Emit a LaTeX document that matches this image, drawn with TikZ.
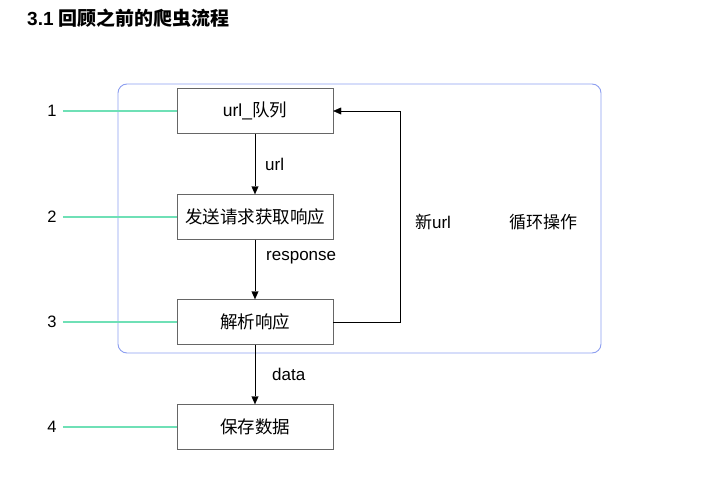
\documentclass[tikz,border=0pt]{standalone}
\usepackage{fontspec}
\setmainfont{Liberation Sans}
\newfontfamily\cjk{Noto Sans CJK SC}
\usepackage{tikz}
\usetikzlibrary{arrows.meta}

\definecolor{loopblue}{HTML}{8C9EF0}
\definecolor{mintline}{HTML}{6FE0B6}

\tikzset{
  stagebox/.style={draw=black!60, fill=white, minimum width=156pt, minimum height=45pt,
    inner sep=0pt, font=\fontsize{17.5}{20}\selectfont},
  flow/.style={-{Triangle[length=8pt,width=7pt]}, thin},
  tag/.style={font=\fontsize{17}{20}\selectfont, inner sep=0pt},
  num/.style={font=\fontsize{16.5}{19}\selectfont, inner sep=0pt},
  marker/.style={mintline, line width=1.3pt}
}

\begin{document}
\begin{tikzpicture}[x=1pt,y=-1pt]
\useasboundingbox (0,0) rectangle (704,492);

% title
\node[anchor=west, inner sep=0pt, font=\fontsize{19}{22}\selectfont\bfseries] (title) at (27,18) {3.1 {\cjk\bfseries 回顾之前的爬虫流程}};

% loop frame
\draw[loopblue, line width=0.9pt, rounded corners=9pt] (118,84) rectangle (601,353);

% stages
\node[stagebox] (queue) at (255,111) {url\_{\cjk 队列}};
\node[stagebox] (fetch) at (255,217) {\cjk 发送请求获取响应};
\node[stagebox] (parse) at (255,322) {\cjk 解析响应};
\node[stagebox] (save)  at (255,427) {\cjk 保存数据};

% step numbers
\node[num] (n1) at (52,111) {1};
\node[num] (n2) at (52,217) {2};
\node[num] (n3) at (52,322) {3};
\node[num] (n4) at (52,427) {4};

\draw[marker] (n1.east) ++(6,0) -- (queue.west);
\draw[marker] (n2.east) ++(6,0) -- (fetch.west);
\draw[marker] (n3.east) ++(6,0) -- (parse.west);
\draw[marker] (n4.east) ++(6,0) -- (save.west);

% flow
\draw[flow] (queue) -- node[tag, right=10pt] {url} (fetch);
\draw[flow] (fetch) -- node[tag, right=11pt, pos=0.3] {response} (parse);
\draw[flow] (parse) -- node[tag, right=17pt] {data} (save);

% back loop
\coordinate (turn) at (400,0);
\draw[flow] (parse.east) -| (turn |- queue.east) -- (queue.east);

% labels
\node[tag] (newurl) at (433,222) {{\cjk 新}url};
\node[tag] (loop) at (543,222) {\cjk 循环操作};

\end{tikzpicture}
\end{document}
